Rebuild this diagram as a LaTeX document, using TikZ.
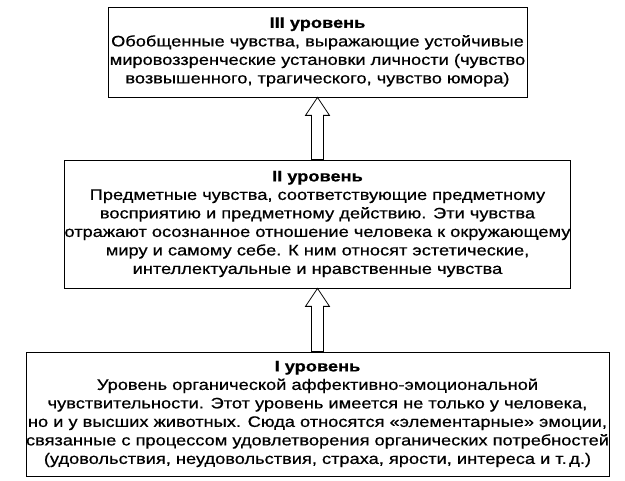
\documentclass[tikz,border=0pt]{standalone}
\usepackage{fontspec}
\setmainfont{Liberation Sans}[FakeStretch=1.2,FakeBold=0.6]
\usetikzlibrary{positioning,calc}

\tikzset{
  levelbox/.style={draw=black,thick,fill=white,align=center,inner sep=0pt,
    font=\fontsize{15.2}{18.5}\selectfont},
  hollowarrow/.style={draw=black,thick,fill=white}
}
% block arrow from bottom node to top node
\newcommand{\blockarrow}[2]{%
  \draw[hollowarrow] let \p1=(#1.north), \p2=(#2.south) in
    (\x1-6pt,\y1) -- (\x1-6pt,\y2-18pt) -- (\x1-12pt,\y2-18pt) -- (\x1,\y2)
    -- (\x1+12pt,\y2-18pt) -- (\x1+6pt,\y2-18pt) -- (\x1+6pt,\y1) -- cycle;}

\begin{document}
\begin{tikzpicture}[x=1pt,y=1pt]
  \useasboundingbox (0,0) rectangle (625,-481);

  % levels
  \node[levelbox, minimum width=419pt, minimum height=90pt] (iii) at (317.5,-52)
    {\textbf{III уровень}\\
     Обобщенные чувства, выражающие устойчивые\\
     мировоззренческие установки личности (чувство\\
     возвышенного, трагического, чувство юмора)};
  \node[levelbox, minimum width=495pt, minimum height=128pt] (ii) at (317.5,-224)
    {\textbf{II уровень}\\
     Предметные чувства, соответствующие предметному\\
     восприятию и предметному действию. Эти чувства\\
     отражают осознанное отношение человека к окружающему\\
     миру и самому себе. К ним относят эстетические,\\
     интеллектуальные и нравственные чувства};
  \node[levelbox, minimum width=577pt, minimum height=124pt] (i) at (317.5,-414)
    {\textbf{I уровень}\\
     Уровень органической аффективно-эмоциональной\\
     чувствительности. Этот уровень имеется не только у человека,\\
     но и у высших животных. Сюда относятся «элементарные» эмоции,\\
     связанные с процессом удовлетворения органических потребностей\\
     (удовольствия, неудовольствия, страха, ярости, интереса и т.\,д.)};

  % arrows
  \blockarrow{i}{ii}
  \blockarrow{ii}{iii}
\end{tikzpicture}
\end{document}
